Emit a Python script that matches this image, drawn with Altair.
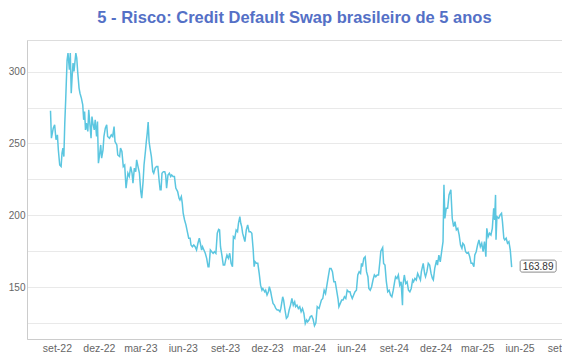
import altair as alt
import pandas as pd

title_text = "5 - Risco: Credit Default Swap brasileiro de 5 anos"
month_pt = ["jan", "fev", "mar", "abr", "mai", "jun", "jul", "ago", "set", "out", "nov", "dez"]
x_tick_months = [(2022, 9), (2022, 12), (2023, 3), (2023, 6), (2023, 9), (2023, 12),
                 (2024, 3), (2024, 6), (2024, 9), (2024, 12), (2025, 3), (2025, 6), (2025, 9)]
y_grid_values = [125, 150, 175, 200, 225, 250, 275, 300]

dates = [
    "2022-08-18", "2022-08-20", "2022-08-24", "2022-08-27", "2022-08-30",
    "2022-09-02", "2022-09-04", "2022-09-07", "2022-09-10", "2022-09-12", "2022-09-14", "2022-09-16", "2022-09-18", "2022-09-20", "2022-09-23", "2022-09-25", "2022-09-28", "2022-09-30",
    "2022-10-02", "2022-10-04", "2022-10-06", "2022-10-08", "2022-10-12", "2022-10-14", "2022-10-16", "2022-10-19", "2022-10-21", "2022-10-24", "2022-10-27", "2022-10-29", "2022-10-31",
    "2022-11-02", "2022-11-04", "2022-11-07", "2022-11-09", "2022-11-12", "2022-11-14", "2022-11-16", "2022-11-18", "2022-11-21", "2022-11-23", "2022-11-26", "2022-11-28", "2022-11-30",
    "2022-12-03", "2022-12-05", "2022-12-07", "2022-12-10", "2022-12-12", "2022-12-15", "2022-12-18", "2022-12-20", "2022-12-24", "2022-12-28", "2022-12-31",
    "2023-01-03", "2023-01-05", "2023-01-09", "2023-01-11", "2023-01-15", "2023-01-17", "2023-01-20", "2023-01-23", "2023-01-26", "2023-01-29",
    "2023-02-02", "2023-02-05", "2023-02-08", "2023-02-11", "2023-02-13", "2023-02-16", "2023-02-19", "2023-02-21", "2023-02-24", "2023-02-27",
    "2023-03-02", "2023-03-04", "2023-03-07", "2023-03-09", "2023-03-12", "2023-03-14", "2023-03-16", "2023-03-18", "2023-03-20", "2023-03-22", "2023-03-25", "2023-03-28", "2023-03-30",
    "2023-04-02", "2023-04-05", "2023-04-08", "2023-04-11", "2023-04-13", "2023-04-15", "2023-04-17", "2023-04-20", "2023-04-23", "2023-04-25", "2023-04-27", "2023-04-30",
    "2023-05-03", "2023-05-06", "2023-05-08", "2023-05-11", "2023-05-14", "2023-05-17", "2023-05-21", "2023-05-24", "2023-05-26", "2023-05-29", "2023-05-31",
    "2023-06-02", "2023-06-05", "2023-06-08", "2023-06-11", "2023-06-14", "2023-06-17", "2023-06-19", "2023-06-22", "2023-06-25", "2023-06-28",
    "2023-07-01", "2023-07-04", "2023-07-07", "2023-07-10", "2023-07-12", "2023-07-14", "2023-07-17", "2023-07-20", "2023-07-23", "2023-07-26", "2023-07-28", "2023-07-31",
    "2023-08-03", "2023-08-06", "2023-08-09", "2023-08-12", "2023-08-15", "2023-08-18", "2023-08-20", "2023-08-22", "2023-08-25", "2023-08-28", "2023-08-31",
    "2023-09-03", "2023-09-05", "2023-09-08", "2023-09-11", "2023-09-14", "2023-09-17", "2023-09-19", "2023-09-22", "2023-09-25", "2023-09-28", "2023-09-30",
    "2023-10-03", "2023-10-05", "2023-10-07", "2023-10-09", "2023-10-12", "2023-10-14", "2023-10-17", "2023-10-20", "2023-10-23", "2023-10-26", "2023-10-29",
    "2023-11-01", "2023-11-03", "2023-11-05", "2023-11-08", "2023-11-11", "2023-11-14", "2023-11-17", "2023-11-20", "2023-11-22", "2023-11-26", "2023-11-28",
    "2023-12-01", "2023-12-04", "2023-12-06", "2023-12-09", "2023-12-11", "2023-12-14", "2023-12-17", "2023-12-20", "2023-12-23", "2023-12-26", "2023-12-29", "2023-12-31",
    "2024-01-04", "2024-01-06", "2024-01-09", "2024-01-12", "2024-01-15", "2024-01-18", "2024-01-21", "2024-01-24", "2024-01-27", "2024-01-30",
    "2024-02-01", "2024-02-04", "2024-02-07", "2024-02-10", "2024-02-13", "2024-02-16", "2024-02-19", "2024-02-22", "2024-02-25", "2024-02-27",
    "2024-03-01", "2024-03-04", "2024-03-07", "2024-03-10", "2024-03-13", "2024-03-16", "2024-03-19", "2024-03-23", "2024-03-26", "2024-03-28", "2024-03-31",
    "2024-04-03", "2024-04-06", "2024-04-09", "2024-04-12", "2024-04-15", "2024-04-18", "2024-04-21", "2024-04-24", "2024-04-27", "2024-04-30",
    "2024-05-03", "2024-05-05", "2024-05-08", "2024-05-11", "2024-05-14", "2024-05-17", "2024-05-20", "2024-05-23", "2024-05-26", "2024-05-29", "2024-05-31",
    "2024-06-03", "2024-06-06", "2024-06-09", "2024-06-12", "2024-06-15", "2024-06-18", "2024-06-21", "2024-06-23", "2024-06-25", "2024-06-28",
    "2024-07-01", "2024-07-04", "2024-07-07", "2024-07-09", "2024-07-12", "2024-07-15", "2024-07-18", "2024-07-21", "2024-07-24", "2024-07-27", "2024-07-30",
    "2024-08-02", "2024-08-04", "2024-08-08", "2024-08-10", "2024-08-13", "2024-08-16", "2024-08-19", "2024-08-22", "2024-08-25", "2024-08-28", "2024-08-31",
    "2024-09-03", "2024-09-05", "2024-09-08", "2024-09-11", "2024-09-14", "2024-09-17", "2024-09-20", "2024-09-21", "2024-09-24", "2024-09-27", "2024-09-30",
    "2024-10-03", "2024-10-06", "2024-10-09", "2024-10-12", "2024-10-14", "2024-10-17", "2024-10-20", "2024-10-23", "2024-10-26", "2024-10-29", "2024-10-31",
    "2024-11-04", "2024-11-07", "2024-11-09", "2024-11-12", "2024-11-15", "2024-11-18", "2024-11-21", "2024-11-24", "2024-11-26", "2024-11-29",
    "2024-12-03", "2024-12-05", "2024-12-08", "2024-12-11", "2024-12-14", "2024-12-17", "2024-12-19", "2024-12-21", "2024-12-24", "2024-12-27", "2024-12-30",
    "2025-01-03", "2025-01-06", "2025-01-09", "2025-01-12", "2025-01-15", "2025-01-18", "2025-01-21", "2025-01-24", "2025-01-27", "2025-01-29",
    "2025-02-01", "2025-02-04", "2025-02-07", "2025-02-10", "2025-02-13", "2025-02-16", "2025-02-19", "2025-02-22", "2025-02-24", "2025-02-27",
    "2025-03-02", "2025-03-05", "2025-03-08", "2025-03-11", "2025-03-14", "2025-03-17", "2025-03-20", "2025-03-22", "2025-03-25", "2025-03-28", "2025-03-31",
    "2025-04-03", "2025-04-06", "2025-04-08", "2025-04-10", "2025-04-11", "2025-04-13", "2025-04-17", "2025-04-20", "2025-04-23", "2025-04-25", "2025-04-28", "2025-04-30",
    "2025-05-03", "2025-05-06", "2025-05-09", "2025-05-12", "2025-05-15",
]

cds = [
    272.8, 253.7, 260.7, 263.0, 252.6,
    256.0, 245.6, 235.0, 234.0, 243.3, 246.8, 240.9, 264.2, 280.5, 308.0, 313.0, 301.4, 313.0,
    285.0, 296.7, 306.0, 300.2, 313.0, 309.5, 300.0, 288.6, 285.0, 281.6, 277.0, 266.5, 272.3,
    259.5, 264.2, 258.4, 273.5, 261.8, 253.7, 268.8, 264.2, 259.5, 266.5, 254.9, 265.3, 236.3,
    243.3, 249.0, 239.8, 245.6, 254.9, 260.7, 263.0, 254.9, 253.7, 256.0, 254.9,
    261.8, 251.4, 249.0, 242.0, 240.9, 246.8, 244.4, 233.9, 235.0, 218.9,
    229.3, 227.0, 233.9, 229.3, 222.3, 232.8, 230.4, 238.6, 233.9, 229.3,
    216.5, 211.9, 223.5, 235.0, 244.4, 251.4, 257.2, 264.9, 251.4, 246.8, 240.9, 230.4, 229.3,
    232.8, 233.9, 233.9, 223.5, 217.7, 217.7, 229.3, 230.4, 230.4, 228.1, 218.9, 228.1,
    229.3, 227.0, 228.1, 227.0, 227.0, 218.9, 216.5, 211.9, 210.7, 213.0, 208.4,
    201.4, 196.7, 193.3, 188.6, 184.0, 184.0, 179.3, 178.1, 179.3, 178.1,
    175.8, 180.5, 184.0, 179.3, 175.8, 178.1, 175.8, 173.5, 170.0, 164.2, 164.2, 175.8,
    174.6, 173.5, 174.6, 173.5, 187.5, 190.2, 189.8, 178.1, 172.3, 165.3, 165.3,
    170.0, 172.3, 170.0, 173.5, 166.5, 164.2, 185.1, 184.0, 189.8, 188.6, 194.4,
    199.0, 194.4, 192.1, 187.5, 184.0, 181.6, 189.8, 193.3, 188.6, 188.6, 187.5,
    175.8, 164.2, 167.6, 166.5, 166.5, 159.5, 151.3, 147.8, 149.0, 146.7, 147.8,
    144.4, 146.7, 150.2, 146.7, 143.2, 138.6, 137.4, 135.1, 134.0, 134.0, 132.8, 135.1,
    143.2, 140.9, 134.0, 128.2, 129.4, 134.0, 137.4, 142.0, 137.4, 139.7,
    136.3, 137.4, 135.1, 136.3, 132.8, 135.1, 131.6, 124.6, 127.0, 125.8,
    127.0, 129.4, 130.0, 127.5, 123.0, 125.0, 136.3, 135.1, 138.6, 140.9, 142.0,
    147.8, 145.5, 151.3, 157.2, 163.0, 163.0, 160.7, 153.7, 153.7, 147.8,
    142.0, 136.3, 138.6, 140.9, 140.9, 143.2, 142.0, 147.8, 146.7, 146.7, 144.4,
    142.0, 144.4, 146.7, 147.8, 158.4, 160.7, 159.5, 166.5, 164.2, 170.0,
    171.1, 160.7, 157.2, 149.0, 147.8, 150.2, 154.9, 158.4, 157.2, 158.4, 158.4,
    168.0, 175.0, 177.5, 166.5, 165.3, 153.7, 146.7, 147.8, 144.4, 143.2, 147.8,
    153.7, 157.2, 156.0, 158.4, 151.3, 153.7, 137.4, 151.3, 158.4, 152.5, 153.7,
    147.8, 146.7, 149.0, 154.9, 153.7, 156.0, 154.9, 159.5, 157.2, 154.9, 160.7,
    166.5, 159.5, 157.2, 160.7, 166.5, 165.3, 159.5, 156.0, 154.9, 163.0,
    168.8, 165.3, 172.3, 167.6, 174.6, 181.6, 221.2, 197.9, 204.9, 204.9, 214.2,
    217.7, 197.9, 192.1, 195.6, 189.8, 190.9, 186.3, 179.3, 177.0, 180.5,
    179.3, 174.6, 173.5, 174.1, 171.1, 166.5, 166.5, 164.2, 172.3, 174.6,
    179.3, 182.8, 178.1, 180.5, 174.6, 181.6, 171.1, 190.9, 185.1, 187.5, 186.3,
    190.9, 204.9, 196.7, 214.2, 183.0, 199.0, 197.9, 200.2, 201.4, 195.6, 184.0, 182.8,
    184.0, 180.5, 181.6, 175.8, 163.89,
]

assert len(dates) == len(cds)

df = pd.DataFrame({"date": dates, "cds": cds})
last_df = df.tail(1).copy()
last_df["label"] = last_df["cds"].map("{:.2f}".format)

FONT = "Liberation Sans"

x_scale = alt.Scale(
    type="utc",
    domain=[alt.DateTime(year=2022, month=6, date=28, utc=True),
            alt.DateTime(year=2025, month=9, date=1, hours=6, utc=True)],
)
y_scale = alt.Scale(domain=[113.8, 322.1], nice=False, zero=False)

label_expr = ("[" + ",".join("'%s'" % m for m in month_pt) + "][utcmonth(datum.value)]"
              " + '-' + utcFormat(datum.value, '%y')")

x_axis = alt.Axis(
    values=[alt.DateTime(year=y, month=m, date=1, utc=True) for y, m in x_tick_months],
    labelExpr=label_expr, grid=False, ticks=False, tickSize=0, labelPadding=4,
    domainColor="#cccccc", domainWidth=1, labelColor="#666666", labelFontSize=10.5,
    labelFont=FONT, title=None, labelOverlap=False, labelFlush=False, labelBound=False,
)
y_axis = alt.Axis(
    values=y_grid_values, labelExpr="datum.value % 50 == 0 ? datum.label : ''",
    grid=True, gridColor="#e9e9e9", gridWidth=1, ticks=False, tickSize=0, labelPadding=2,
    domainColor="#cccccc", domainWidth=1, labelColor="#666666", labelFontSize=10,
    labelFont=FONT, title=None,
)

X = alt.X("date:T", scale=x_scale, axis=x_axis)
Y = alt.Y("cds:Q", scale=y_scale, axis=y_axis)

line = alt.Chart(df).mark_line(color="#5BC6E0", strokeWidth=1.5).encode(x=X, y=Y)

box = alt.Chart(last_df).mark_rect(
    width=36, height=12, xOffset=26.5, yOffset=-1, fill="white",
    stroke="#8a8a8a", strokeWidth=1, cornerRadius=2,
).encode(x=X, y=Y)

text = alt.Chart(last_df).mark_text(
    xOffset=26.5, yOffset=-0.5, fontSize=10, color="#333333", font=FONT,
).encode(x=X, y=Y, text="label:N")

chart = alt.layer(line, box, text).properties(
    width=535, height=299,
    title=alt.TitleParams(title_text, fontSize=16.5, fontWeight="bold", color="#5470C6",
                          font=FONT, anchor="middle", offset=14),
    padding={"left": 19, "top": 32, "right": 0, "bottom": 13},
    autosize=alt.AutoSizeParams(type="none"),
).configure_view(stroke=None).configure(background="white")

chart.save("out.html", embed_options={"renderer": "svg", "actions": False})
